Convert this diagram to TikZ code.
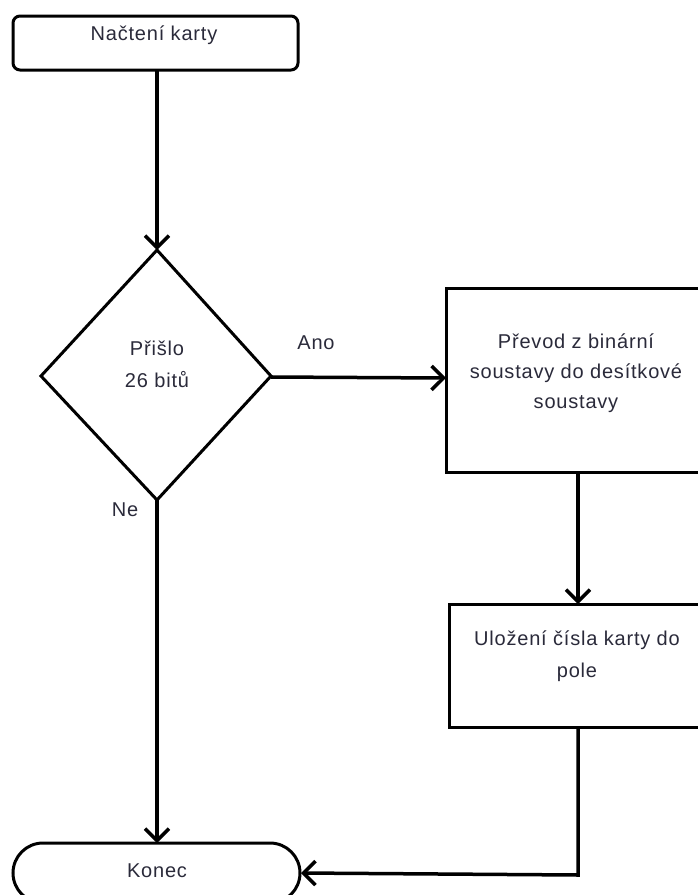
\documentclass[tikz,border=0pt]{standalone}
\usepackage{fontspec}
\setmainfont[LetterSpace=4]{Liberation Sans}
\usetikzlibrary{shapes.geometric,arrows.meta}
\definecolor{txt}{HTML}{2A2A3A}
\begin{document}
\begin{tikzpicture}[x=1pt,y=-1pt,
  line width=3pt,
  lbl/.style={font=\fontsize{20}{30}\selectfont, text=txt, align=center, inner sep=0pt},
  arr/.style={-{Straight Barb[length=12pt,width=24pt,line width=3.5pt]}},
  conn/.style={line width=3.5pt}]
\useasboundingbox (0,0) rectangle (698,895);
\clip (0,0) rectangle (698,895);
% start box
\draw[rounded corners=7pt] (13,16) rectangle (298,70);
\node[lbl] (start) at (154,35) {Načtení karty};
\coordinate (startb) at (157,70);
% diamond
\draw (157,250) -- (271,376) -- (157,500) -- (41,376) -- cycle;
\coordinate (dtop) at (157,250);
\coordinate (dright) at (271,377);
\coordinate (dbot) at (157,500);
\node[lbl] (q1) at (157,348) {Přišlo};
\node[lbl] (q2) at (157,380) {26 bitů};
% process 1
\draw (446,288) rectangle (720,472);
\coordinate (p1left) at (446,378);
\coordinate (p1bot) at (578,472);
\node[lbl, font=\fontsize{20}{30}\selectfont] (p1) at (576,373) {Převod z binární\\soustavy do desítkové\\soustavy};
% process 2
\draw (449,604) rectangle (720,727);
\coordinate (p2top) at (578,604);
\coordinate (p2bot) at (578,727);
\node[lbl, font=\fontsize{20}{32}\selectfont] (p2) at (577,656) {Uložení čísla karty do\\pole};
% end
\draw[rounded corners=30pt] (13,843) rectangle (300,903);
\node[lbl] (end) at (157,871) {Konec};
\coordinate (etop) at (157,843);
\coordinate (eright) at (301,873);
\coordinate (corner) at (578,875);
% connectors
\draw[conn,arr] (startb) -- (dtop);
\draw[conn,arr] (dright) -- (p1left);
\node[lbl] (ano) at (316,343) {Ano};
\draw[conn,arr] (p1bot) -- (p2top);
\draw[conn,arr] (dbot) -- (etop);
\draw[conn,arr] (p2bot) -- (corner) -- (eright);
\node[lbl] (ne) at (125,510) {Ne};
\end{tikzpicture}
\end{document}
